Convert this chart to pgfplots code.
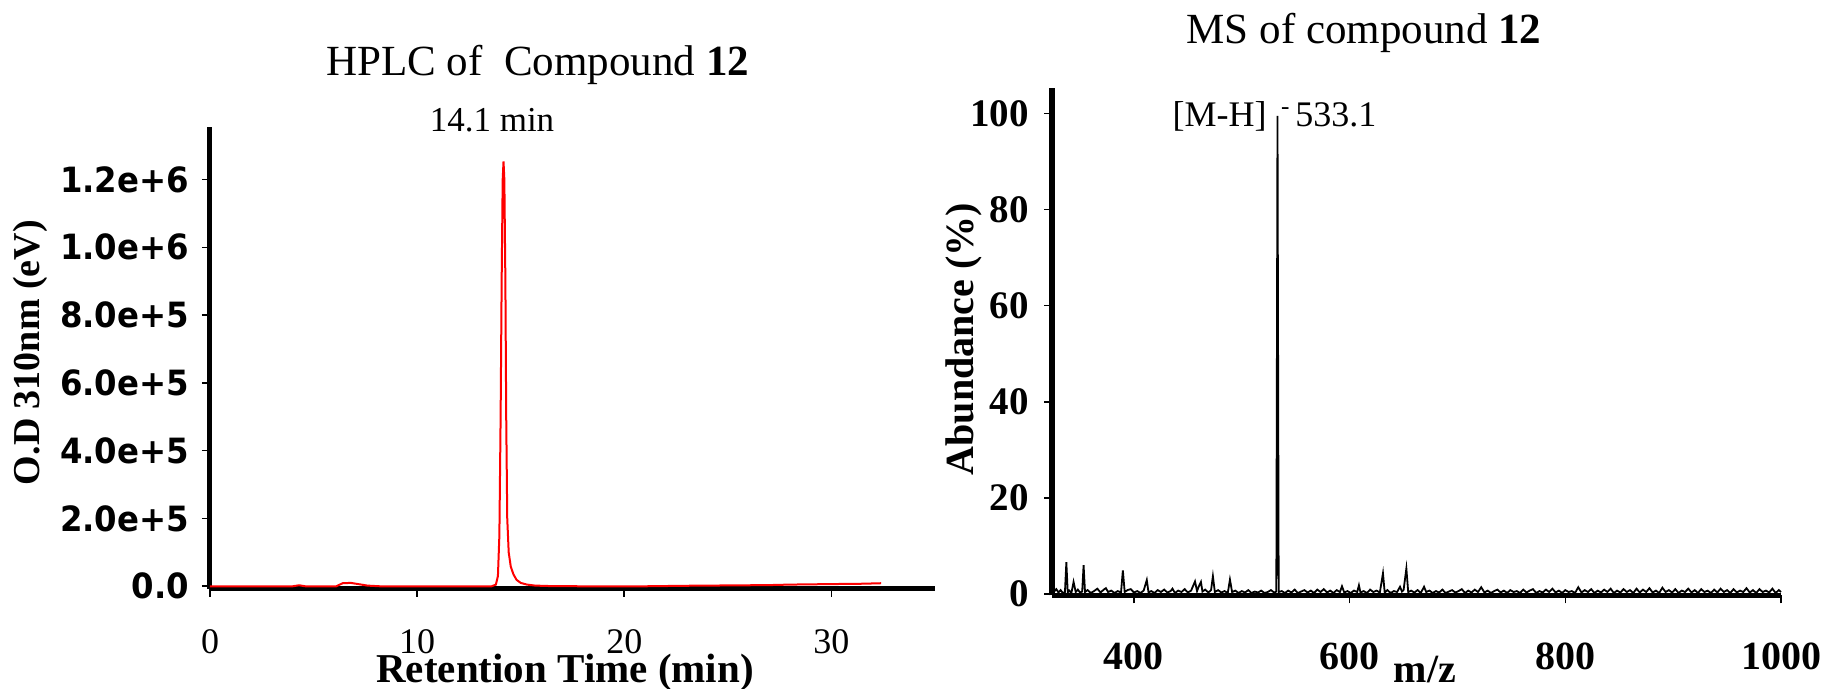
\documentclass[border=0pt]{standalone}
\usepackage{fontspec}
\setmainfont{Liberation Serif}
\newfontfamily\tickfont{DejaVu Sans}
\usepackage{graphicx}
\usepackage{pgfplots}
\pgfplotsset{compat=1.18}
\newcommand\fs[1]{\fontsize{#1}{#1}\selectfont}
\newcommand\sbx[1]{\scalebox{0.93}[1]{#1}}
\begin{document}
\begin{tikzpicture}
\path[use as bounding box] (0,0) rectangle (913.5pt,344.5pt);
\pgfplotsset{every axis title shift=0pt}
% ---------------- HPLC ----------------
\begin{axis}[
  at={(105pt,50pt)}, anchor=south west,
  scale only axis, width=362.5pt, height=231pt,
  xmin=0, xmax=35, ymin=-8000, ymax=1.355e6,
  axis lines=left, axis line style={-, line width=2.5pt, black},
  tick align=outside, major tick length=4pt,
  every tick/.style={black, line width=0.8pt},
  xtick={0,10,20,30}, xticklabels={0,10,20,30},
  xticklabel style={font=\fs{18}, inner sep=1pt, yshift=-15pt},
  ytick={0,2e5,4e5,6e5,8e5,1e6,1.2e6},
  yticklabels={\sbx{0.0},\sbx{2.0e+5},\sbx{4.0e+5},\sbx{6.0e+5},\sbx{8.0e+5},\sbx{1.0e+6},\sbx{1.2e+6}},
  yticklabel style={font=\tickfont\bfseries\fs{17.4}, xshift=-3pt},
  scaled y ticks=false,
  clip=false,
  xlabel={Retention Time (min)},
  xlabel style={at={(axis description cs:0.4897,-0.2025)}, anchor=base, inner sep=0pt, font=\bfseries\fs{20.5}},
  ylabel={O.D 310nm (eV)},
  ylabel style={at={(axis description cs:-0.2483,0.5117)}, anchor=center, inner sep=0pt, font=\bfseries\fs{19}},
  title={HPLC of\ \ Compound \textbf{12}},
  title style={at={(axis description cs:0.4519,1.1113)}, anchor=base, font=\fs{21.5}},
]
\addplot[red, line width=1pt] coordinates {
(0,0) (4.0,0) (4.3,3000) (4.6,0) (6.1,0) (6.4,9000) (6.8,10000) (7.2,6000) (7.6,2000) (8.2,0)
(13.6,0) (13.8,5000) (13.9,30000) (13.97,150000) (14.03,500000) (14.08,900000) (14.13,1200000)
(14.17,1253500) (14.21,1200000) (14.26,900000) (14.3,500000) (14.35,200000) (14.42,100000)
(14.52,58000) (14.65,35000) (14.8,19000) (15.0,10000) (15.3,5000) (15.7,2000) (16.5,500) (18,0)
(21,0) (23,1500) (25,2500) (27,3500) (28,5000) (30,6500) (31.5,7500) (32.4,9000)
};
\node[anchor=base, font=\fs{17.5}] at (axis description cs:0.389,0.9913) {14.1 min};
\end{axis}
% ---------------- MS ----------------
\begin{axis}[
  at={(526pt,46.8pt)}, anchor=south west,
  scale only axis, width=364.5pt, height=253.7pt,
  xmin=324, xmax=1000, ymin=-0.3, ymax=105.3,
  axis lines=left, axis line style={-, line width=2.7pt, black},
  tick align=outside, major tick length=4pt,
  every tick/.style={black, line width=0.8pt},
  xtick={400,600,800,1000}, xticklabels={400,600,800,1000},
  xticklabel style={font=\bfseries\fs{20}, inner sep=1pt, yshift=-18.6pt},
  ytick={0,20,40,60,80,100}, yticklabels={0,20,40,60,80,100},
  yticklabel style={font=\bfseries\fs{19.5}, xshift=-4pt},
  clip=false,
  xlabel={m/z},
  xlabel style={at={(axis description cs:0.5117,-0.172)}, anchor=base, inner sep=0pt, font=\bfseries\fs{20}},
  ylabel={Abundance (\%)},
  ylabel style={at={(axis description cs:-0.1207,0.5053)}, anchor=center, inner sep=0pt, font=\bfseries\fs{20}},
  title={MS of compound \textbf{12}},
  title style={at={(axis description cs:0.428,1.0867)}, anchor=base, font=\fs{21.5}},
]
\addplot[black, line width=0.9pt] coordinates {
(326,0.5) (328,1.0) (330,0.3) (332,0.8) (334,0.2) (336,0.4) (337.3,6.6) (338.6,0.3) (340,0.7) (342,0.2)
(344,2.5) (346,0.4) (348,0.9) (350,0.3) (352,0.5) (353.3,6.0) (354.6,0.4) (357,0.8) (360,0.2) (363,0.6)
(366,1.1) (369,0.3) (372,0.9) (374,1.2) (376,0.4) (379,0.7) (382,0.2) (385,0.6) (388,0.3) (389.7,4.9)
(391.4,0.4) (394,0.8) (397,1.0) (400,0.3) (403,0.6) (406,0.2) (409,0.7) (411.9,2.9) (413.5,0.3) (416,0.6)
(419,0.2) (422,0.8) (425,0.4) (428,0.9) (431,0.3) (434,0.6) (435.7,1.1) (438,0.2) (441,0.7) (444,0.4)
(447,1.0) (450,0.3) (453,0.7) (456.6,2.6) (458.5,0.6) (460,1.5) (462.1,2.5) (463.5,0.5) (466,0.9) (469,0.3)
(471.5,0.8) (473.2,3.7) (475,0.4) (478,0.8) (481,0.3) (484,0.6) (487,0.2) (489,3.0) (491,0.4) (494,0.7)
(497,0.2) (500,0.6) (503,0.3) (506,0.8) (509,0.2) (512,0.5) (515,0.3) (518,0.7) (521,0.2) (524,0.4)
(527,0.8) (530,0.3) (532,0.5) (533.1,99.5) (534.2,0.4) (537,0.6) (540,0.2) (543,0.7) (546,0.3) (549,0.9)
(552,0.2) (555,0.5) (558,0.8) (561,0.3) (564,0.7) (567,0.2) (570,0.9) (573,0.4) (576,1.0) (579,0.3)
(582,0.7) (585,0.2) (588,0.8) (591,0.4) (592.9,1.6) (595,0.3) (598,0.6) (601,0.2) (604,0.7) (607,0.4)
(608.6,1.8) (610,0.3) (613,0.6) (616,0.2) (619,0.9) (622,0.4) (625,0.7) (628,0.3) (630.9,4.3) (632.5,0.3)
(635,0.8) (638,0.2) (641,0.6) (644,0.4) (646.7,1.5) (648.5,0.5) (650,0.8) (652.6,5.3) (654.3,0.4) (657,0.7)
(660,0.3) (663,0.8) (666,0.2) (669,1.5) (671,0.4) (674,0.7) (677,0.2) (680,0.6) (683,0.3) (686,0.9)
(689,0.2) (692,0.5) (695,0.8) (698,0.3) (701,0.6) (704,1.0) (707,0.2) (710,0.7) (713,0.3) (716,0.9)
(719,0.4) (722,1.4) (725,0.3) (728,0.7) (731,0.2) (734,0.6) (737,0.9) (740,0.3) (743,0.7) (746,0.2)
(749,0.8) (752,0.4) (755,0.6) (758,0.2) (761,0.9) (764,0.3) (767,0.7) (770,1.0) (773,0.2) (776,0.6)
(779,0.3) (782,0.9) (785,0.4) (788,1.1) (791,0.3) (794,0.7) (797,0.2) (800,0.8) (803,0.4) (806,0.6)
(809,0.2) (812,1.4) (815,0.3) (818,0.8) (821,0.4) (824,1.0) (827,0.2) (830,0.7) (833,0.3) (836,0.9)
(839,0.4) (842,1.1) (845,0.2) (848,0.7) (851,0.3) (854,1.0) (857,0.4) (860,0.8) (863,0.2) (866,1.1)
(869,0.3) (872,0.9) (875,0.4) (878,1.2) (881,0.3) (884,0.7) (887,0.2) (890,1.3) (893,0.4) (896,0.8)
(899,0.3) (902,1.0) (905,0.2) (908,0.7) (911,0.4) (914,1.1) (917,0.3) (920,0.8) (923,0.2) (926,1.0)
(929,0.4) (932,0.7) (935,0.2) (938,0.9) (941,0.3) (944,1.1) (947,0.4) (950,0.8) (953,0.2) (956,1.0)
(959,0.3) (962,0.7) (965,0.4) (968,1.2) (971,0.3) (974,0.8) (977,0.2) (980,1.0) (983,0.4) (986,0.7)
(989,0.3) (992,1.1) (995,0.2) (998,0.8) (1000,0.4)
};
\node[anchor=base east, inner sep=0pt, font=\fs{18}] at (axis cs:523.4,97.2) {[M-H]};
\node[anchor=base west, inner sep=0pt, font=\fs{18}] at (axis cs:536.0,97.2) {\textsuperscript{-}};
\node[anchor=base west, inner sep=0pt, font=\fs{18}] at (axis cs:549.3,97.2) {533.1};
\end{axis}
\end{tikzpicture}
\end{document}
